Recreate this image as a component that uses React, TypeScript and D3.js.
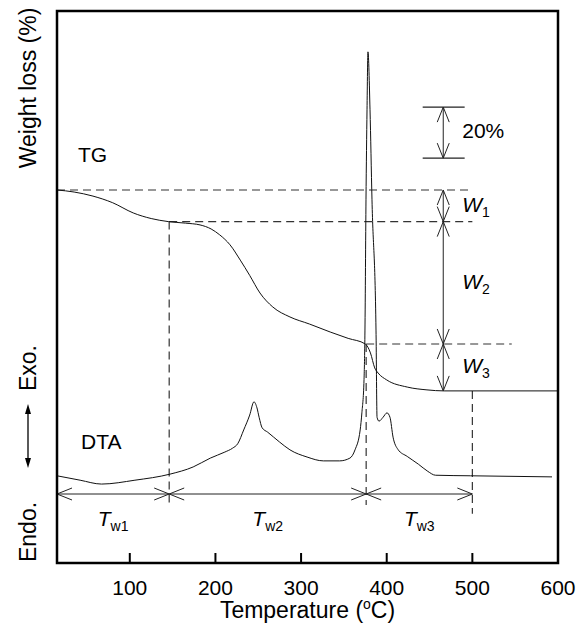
import React from 'react'
import * as d3 from 'd3'

// TG curve: temperature (°C) vs weight loss (%)
const tgTemp = [15, 35, 57, 80, 104, 125, 145, 165, 182, 195, 205, 217, 229, 240, 252, 267, 287, 310, 334, 355, 375, 381, 386, 390, 400, 424, 447, 467, 600]
const tgLoss = [0, 0.8, 2.4, 5, 9, 11.2, 12.4, 13.0, 13.7, 15.3, 17.6, 21.5, 27.5, 33.5, 40.4, 45.9, 49.8, 52.6, 55.7, 58.2, 60.4, 63.9, 69.8, 71.8, 74.5, 77.3, 78.4, 78.8, 78.8]

// DTA curve: temperature (°C) vs signal (a.u.)
const dtaTemp = [15, 42, 67, 106, 147, 174, 194, 211, 220, 226, 233, 240, 245, 248.5, 251, 254.5, 261, 275, 287, 307, 326, 345, 357, 363, 369, 371, 373.5, 374.6, 375.8, 377, 378.1, 380.5, 382.8, 387.5, 388.7, 391, 395.7, 400.3, 403.8, 407.4, 413, 424, 437, 448, 457, 498, 593]
const dtaSignal = [15.8, 15.0, 14.3, 15.0, 16.1, 17.4, 19.0, 20.1, 20.8, 21.6, 24.1, 26.8, 29.2, 28.1, 26.4, 24.5, 23.7, 21.9, 20.5, 19.2, 18.5, 18.5, 19.0, 20.5, 24.1, 27.2, 33.2, 42.2, 65.8, 82.1, 92.6, 82.1, 65.8, 42.2, 26.4, 25.7, 26.4, 27.2, 26.4, 22.8, 20.6, 19.3, 17.9, 16.6, 15.9, 15.8, 15.6]

const xTicks = [100, 200, 300, 400, 500, 600]

// decomposition stages (°C) and weight loss levels (%)
const stageTemps = [15, 146, 376, 500]
const stageNames = ['w1', 'w2', 'w3']
const wLevels = [0, 12.4, 60.4, 78.8]
const wNames = ['1', '2', '3']
const scaleBar = [-32.5, -12.5]

const width = 579, height = 626
const margin = {top: 11, right: 21, bottom: 63, left: 57}
const font = 'Liberation Sans, Arial, Helvetica, sans-serif'

export default function App() {
  const x = d3.scaleLinear().domain([15, 600]).range([margin.left, width - margin.right])
  const yTG = d3.scaleLinear().domain([-70.2, 146.3]).range([margin.top, height - margin.bottom])
  const yDTA = d3.scaleLinear().domain([0, 100]).range([height - margin.bottom, margin.top])

  const tgLine = d3.line<number>()
    .x(d => x(d))
    .y((d, i) => yTG(tgLoss[i]))
    .curve(d3.curveMonotoneX)
  const dtaLine = d3.line<number>()
    .x(d => x(d))
    .y((d, i) => yDTA(dtaSignal[i]))
    .curve(d3.curveMonotoneX)

  // open arrow heads
  const vHead = (px: number, py: number, up: boolean) => {
    const s = up ? 1 : -1
    return `M${px - 6},${py + 15 * s}L${px},${py}L${px + 6},${py + 15 * s}`
  }
  const hHead = (px: number, py: number, left: boolean) => {
    const s = left ? 1 : -1
    return `M${px + 15 * s},${py - 6}L${px},${py}L${px + 15 * s},${py + 6}`
  }

  const wx = x(466)
  const tgY = wLevels.map(v => yTG(v))
  const arrowY = yDTA(12.5)
  const stageX = stageTemps.map(t => x(t))
  const dashEnd = [x(500), x(500), x(546)]
  const vDashBottom = [yDTA(10.9), yDTA(10.5), yDTA(8.9)]
  const dash = {stroke: '#333', strokeWidth: 1.2, strokeDasharray: '8,5', fill: 'none'}
  const thin = {stroke: '#222', strokeWidth: 1, fill: 'none'}

  return (
    <svg width={width} height={height} style={{position: 'absolute', left: 0, top: 0, background: '#fff'}}
         fontFamily={font}>
      {/* horizontal dashed guides for weight loss levels */}
      {wLevels.slice(0, 3).map((v, i) => (
        <line key={'hd' + i} x1={i === 1 ? x(146) : i === 2 ? x(376) : margin.left} x2={dashEnd[i]}
              y1={yTG(v)} y2={yTG(v)} style={dash}/>
      ))}
      {/* vertical dashed guides for stage boundaries */}
      {stageTemps.slice(1).map((t, i) => (
        <line key={'vd' + i} x1={x(t)} x2={x(t)} y1={yTG(wLevels[i + 1])} y2={vDashBottom[i]} style={dash}/>
      ))}

      <path d={tgLine(tgTemp) || ''} style={{...thin, stroke: '#111'}}/>
      <path d={dtaLine(dtaTemp) || ''} style={{...thin, stroke: '#111'}}/>

      {/* 20% scale bar */}
      {scaleBar.map((v, i) => (
        <line key={'sb' + i} x1={x(442)} x2={x(491)} y1={yTG(v)} y2={yTG(v)} stroke="#222" strokeWidth={1.3}/>
      ))}
      <line x1={wx} x2={wx} y1={yTG(scaleBar[0])} y2={yTG(scaleBar[1])} style={thin}/>
      <path d={vHead(wx, yTG(scaleBar[0]), true)} style={thin}/>
      <path d={vHead(wx, yTG(scaleBar[1]), false)} style={thin}/>
      <text x={wx + 19} y={yTG(scaleBar[0]) + 31} fontSize={21}>20%</text>

      {/* W arrows */}
      <line x1={wx} x2={wx} y1={tgY[0]} y2={tgY[3]} style={thin}/>
      {wNames.map((n, i) => (
        <g key={'w' + n}>
          <path d={vHead(wx, tgY[i], true)} style={thin}/>
          <path d={vHead(wx, tgY[i + 1], false)} style={thin}/>
          <text x={wx + 19} y={(tgY[i] + tgY[i + 1]) / 2 + 6} fontSize={21} fontStyle="italic">
            W<tspan fontSize={14} fontStyle="normal" dy={5}>{n}</tspan>
          </text>
        </g>
      ))}

      {/* T arrows */}
      <line x1={stageX[0]} x2={stageX[3]} y1={arrowY} y2={arrowY} style={thin}/>
      {stageNames.map((n, i) => (
        <g key={'t' + n}>
          <path d={hHead(stageX[i], arrowY, true)} style={thin}/>
          <path d={hHead(stageX[i + 1], arrowY, false)} style={thin}/>
          <text x={(stageX[i] + stageX[i + 1]) / 2} y={arrowY + 32} fontSize={21} textAnchor="middle">
            <tspan fontStyle="italic">T</tspan><tspan fontSize={14} dy={5}>{n}</tspan>
          </text>
        </g>
      ))}

      {/* frame and ticks */}
      <rect x={margin.left} y={margin.top} width={width - margin.left - margin.right}
            height={height - margin.top - margin.bottom} fill="none" stroke="#000" strokeWidth={2.5}/>
      {xTicks.map(t => (
        <g key={'tk' + t}>
          {t < 600 && <line x1={x(t)} x2={x(t)} y1={height - margin.bottom} y2={height - margin.bottom - 10}
                            stroke="#000" strokeWidth={2}/>}
          <text x={x(t)} y={height - margin.bottom + 32} fontSize={21} textAnchor="middle">{t}</text>
        </g>
      ))}
      <text x={(margin.left + width - margin.right) / 2} y={height - 8} fontSize={23} textAnchor="middle">
        Temperature (<tspan fontSize={14} dy={-9}>o</tspan><tspan dy={9}>C)</tspan>
      </text>

      {/* curve labels */}
      <text x={78} y={162} fontSize={21}>TG</text>
      <text x={81} y={449} fontSize={21}>DTA</text>

      {/* y axis labels */}
      <text transform="translate(36,88) rotate(-90)" fontSize={23} textAnchor="middle">Weight loss (%)</text>
      <text transform="translate(36,368) rotate(-90)" fontSize={23} textAnchor="middle">Exo.</text>
      <text transform="translate(36,532) rotate(-90)" fontSize={23} textAnchor="middle">Endo.</text>
      <line x1={28} x2={28} y1={410} y2={462} stroke="#000" strokeWidth={1.3}/>
      <path d="M28,404L25,414L31,414Z" fill="#000"/>
      <path d="M28,468L25,458L31,458Z" fill="#000"/>
    </svg>
  )
}
